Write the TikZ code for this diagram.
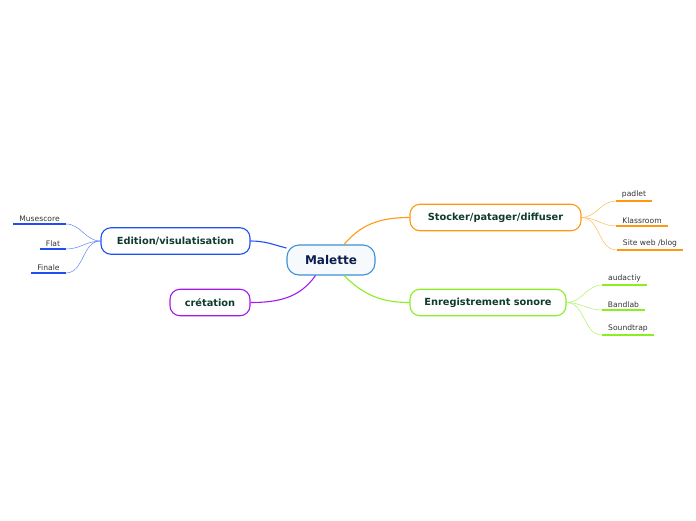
\documentclass[tikz,border=0pt]{standalone}
\usepackage{fontspec}
\setmainfont{DejaVu Sans}
\usetikzlibrary{positioning}
\definecolor{edblue}{HTML}{1F4FF0}
\definecolor{crpurple}{HTML}{A21AF0}
\definecolor{storange}{HTML}{FF9A10}
\definecolor{enlime}{HTML}{8AEE20}
\definecolor{centreblue}{HTML}{3E8ED6}
\definecolor{labelgreen}{HTML}{0E3B2C}
\definecolor{centretext}{HTML}{0B1E4E}
\begin{document}
\begin{tikzpicture}[x=1pt,y=-1pt,
centre/.style={draw=centreblue,fill=centreblue!4,line width=1.1pt,rounded corners=12pt,minimum width=88pt,minimum height=30pt,inner sep=0pt,font=\fontsize{12}{14}\selectfont\bfseries,text=centretext},
topic/.style={draw=#1,fill=white,line width=1.1pt,rounded corners=10pt,minimum height=26.5pt,inner sep=0pt,font=\fontsize{9.8}{12}\selectfont\bfseries,text=labelgreen},
leaf/.style={anchor=south,inner xsep=6pt,inner ysep=2.5pt,font=\fontsize{7.6}{9}\selectfont,text=black!80},
uline/.style={line width=2.2pt,#1},
branch/.style={line width=1.1pt,#1},
twig/.style={line width=0.5pt,#1!70}]
\useasboundingbox (0,0) rectangle (696,520);
\node[centre] (malette) at (331,260) {Malette};
\node[topic=edblue,minimum width=149pt] (edition) at (175.5,241) {Edition/visulatisation};
\node[topic=crpurple,minimum width=80pt] (cretation) at (210,302.5) {crétation};
\node[topic=storange,minimum width=171pt] (stocker) at (495.5,217.5) {Stocker/patager/diffuser};
\node[topic=enlime,minimum width=156pt] (enreg) at (488,302.5) {Enregistrement sonore};
\node[leaf] (musescore) at (39.5,224) {Musescore};
\node[leaf] (flat) at (53,249) {Flat};
\node[leaf] (finale) at (48.5,273) {Finale};
\node[leaf] (padlet) at (634,201) {padlet};
\node[leaf] (klassroom) at (642,226) {Klassroom};
\node[leaf] (siteweb) at (650,250) {Site web /blog};
\node[leaf] (audactiy) at (624.5,285) {audactiy};
\node[leaf] (bandlab) at (623.5,310) {Bandlab};
\node[leaf] (soundtrap) at (628,335) {Soundtrap};
\foreach \n in {musescore,flat,finale}
  \draw[uline=edblue] (\n.south west)--(\n.south east);
\foreach \n in {padlet,klassroom,siteweb}
  \draw[uline=storange] (\n.south west)--(\n.south east);
\foreach \n in {audactiy,bandlab,soundtrap}
  \draw[uline=enlime] (\n.south west)--(\n.south east);
\draw[branch=edblue] (malette.165) to[out=165,in=0] (edition.east);
\draw[branch=crpurple] (malette.225) to[out=235,in=0] (cretation.east);
\draw[branch=storange] (malette.50) to[out=50,in=180] (stocker.west);
\draw[branch=enlime] (malette.-50) to[out=-45,in=180] (enreg.west);
\foreach \n in {musescore,flat,finale}
  \draw[twig=edblue] (edition.west) to[out=180,in=0] (\n.south east);
\foreach \n in {padlet,klassroom,siteweb}
  \draw[twig=storange] (stocker.east) to[out=0,in=180] (\n.south west);
\foreach \n in {audactiy,bandlab,soundtrap}
  \draw[twig=enlime] (enreg.east) to[out=0,in=180] (\n.south west);
\end{tikzpicture}
\end{document}
